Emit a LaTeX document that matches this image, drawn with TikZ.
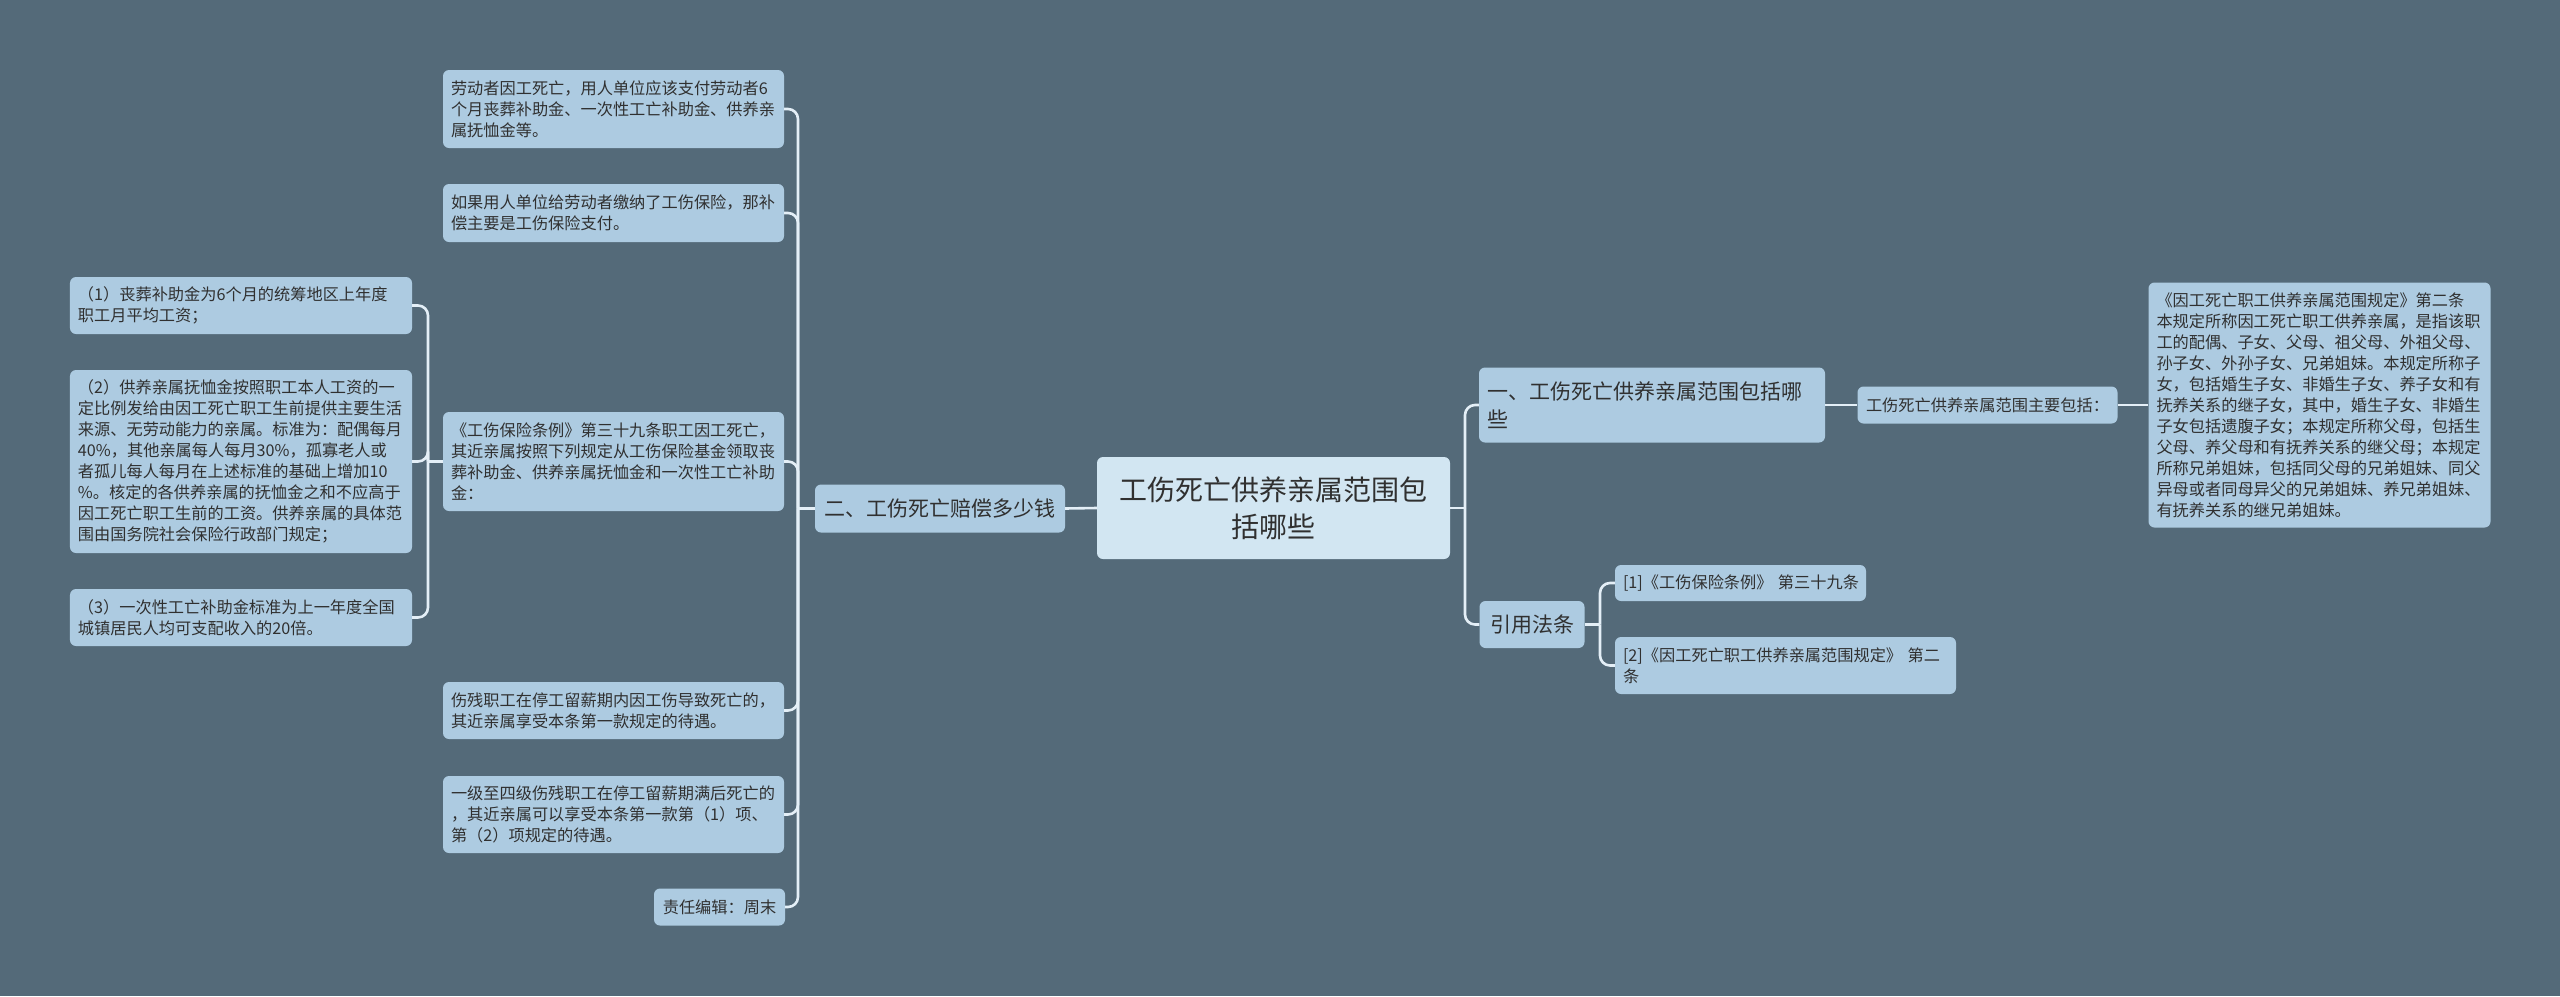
\documentclass[tikz,border=0pt]{standalone}
\usepackage{fontspec}
\setmainfont{Noto Sans CJK SC}
\definecolor{bgc}{HTML}{546A79}
\definecolor{leafc}{HTML}{ADCBE1}
\definecolor{rootc}{HTML}{D2E6F2}
\definecolor{linec}{HTML}{E4EFF7}
\definecolor{txtc}{HTML}{303030}
\begin{document}
\begin{tikzpicture}[x=1bp,y=-1bp,
  box/.style={rounded corners=6bp, fill=leafc, text=txtc, inner xsep=8bp, inner ysep=0bp, anchor=center, align=left, font=\fontsize{16.2bp}{21bp}\selectfont},
  midbox/.style={box, font=\fontsize{21bp}{28bp}\selectfont},
  rootbox/.style={box, fill=rootc, font=\fontsize{28bp}{37bp}\selectfont, align=center},
  conn/.style={draw=linec, line width=2.6bp, rounded corners=10bp}]
\useasboundingbox (0,0) rectangle (2560,996);
\fill[bgc] (0,0) rectangle (2560,996);

% root
\node[rootbox, text width=337bp, minimum height=102bp] (C) at (1273.5,508) {工伤死亡供养亲属范围包\\括哪些};

% left branch
\node[midbox, text width=234bp, minimum height=48bp, align=center] (N2) at (940,508.5) {二、工伤死亡赔偿多少钱};

\node[box, text width=325bp, minimum height=78bp] (L1) at (613.5,109) {劳动者因工死亡，用人单位应该支付劳动者6\\个月丧葬补助金、一次性工亡补助金、供养亲\\属抚恤金等。};
\node[box, text width=325bp, minimum height=58bp] (L2) at (613.5,213) {如果用人单位给劳动者缴纳了工伤保险，那补\\偿主要是工伤保险支付。};
\node[box, text width=325bp, minimum height=99bp] (L3) at (613.5,461.5) {《工伤保险条例》第三十九条职工因工死亡，\\其近亲属按照下列规定从工伤保险基金领取丧\\葬补助金、供养亲属抚恤金和一次性工亡补助\\金：};
\node[box, text width=325bp, minimum height=57bp] (L4) at (613.5,710.5) {伤残职工在停工留薪期内因工伤导致死亡的，\\其近亲属享受本条第一款规定的待遇。};
\node[box, text width=325bp, minimum height=77bp] (L5) at (613.5,814.5) {一级至四级伤残职工在停工留薪期满后死亡的\\，其近亲属可以享受本条第一款第（1）项、\\第（2）项规定的待遇。};
\node[box, text width=115bp, minimum height=37bp, align=center] (L6) at (719.5,907) {责任编辑：周末};

\node[box, text width=326bp, minimum height=57bp] (S1) at (241,305.5) {（1）丧葬补助金为6个月的统筹地区上年度\\职工月平均工资；};
\node[box, text width=326bp, minimum height=183bp] (S2) at (241,461.5) {（2）供养亲属抚恤金按照职工本人工资的一\\定比例发给由因工死亡职工生前提供主要生活\\来源、无劳动能力的亲属。标准为：配偶每月\\40\%，其他亲属每人每月30\%，孤寡老人或\\者孤儿每人每月在上述标准的基础上增加10\\\%。核定的各供养亲属的抚恤金之和不应高于\\因工死亡职工生前的工资。供养亲属的具体范\\围由国务院社会保险行政部门规定；};
\node[box, text width=326bp, minimum height=57bp] (S3) at (241,617.5) {（3）一次性工亡补助金标准为上一年度全国\\城镇居民人均可支配收入的20倍。};

% right branch
\node[midbox, text width=330bp, minimum height=75bp] (R1) at (1652,405) {一、工伤死亡供养亲属范围包括哪\\些};
\node[box, text width=244bp, minimum height=37bp, align=center] (R1a) at (1987.5,405) {工伤死亡供养亲属范围主要包括：};
\node[box, text width=326bp, minimum height=245bp] (R1b) at (2319.5,405) {《因工死亡职工供养亲属范围规定》第二条\\本规定所称因工死亡职工供养亲属，是指该职\\工的配偶、子女、父母、祖父母、外祖父母、\\孙子女、外孙子女、兄弟姐妹。本规定所称子\\女，包括婚生子女、非婚生子女、养子女和有\\抚养关系的继子女，其中，婚生子女、非婚生\\子女包括遗腹子女；本规定所称父母，包括生\\父母、养父母和有抚养关系的继父母；本规定\\所称兄弟姐妹，包括同父母的兄弟姐妹、同父\\异母或者同母异父的兄弟姐妹、养兄弟姐妹、\\有抚养关系的继兄弟姐妹。};
\node[midbox, text width=89bp, minimum height=47bp, align=center] (R2) at (1532,624.5) {引用法条};
\node[box, text width=235bp, minimum height=36bp] (R2a) at (1740.5,583) {[1]《工伤保险条例》~第三十九条};
\node[box, text width=325bp, minimum height=57bp] (R2b) at (1785.5,665.5) {[2]《因工死亡职工供养亲属范围规定》~第二\\条};

% junctions
\coordinate (jL) at (798,508.5);
\coordinate (jS) at (428,461.5);
\coordinate (jR) at (1465,508);
\coordinate (jR2) at (1600,624.5);

% connectors
\draw[conn] (C.west) -- (N2.east);
\draw[conn] (N2.west) -- (jL);
\foreach \n in {L1,L2,L3,L4,L5,L6} { \draw[conn] (jL) |- (\n.east); }
\draw[conn] (L3.west) -- (jS);
\foreach \n in {S1,S2,S3} { \draw[conn] (jS) |- (\n.east); }
\draw[conn] (C.east) -- (jR);
\draw[conn] (jR) |- (R1.west);
\draw[conn] (jR) |- (R2.west);
\draw[conn] (R1.east) -- (R1a.west);
\draw[conn] (R1a.east) -- (R1b.west);
\draw[conn] (R2.east) -- (jR2);
\draw[conn] (jR2) |- (R2a.west);
\draw[conn] (jR2) |- (R2b.west);
\end{tikzpicture}
\end{document}
